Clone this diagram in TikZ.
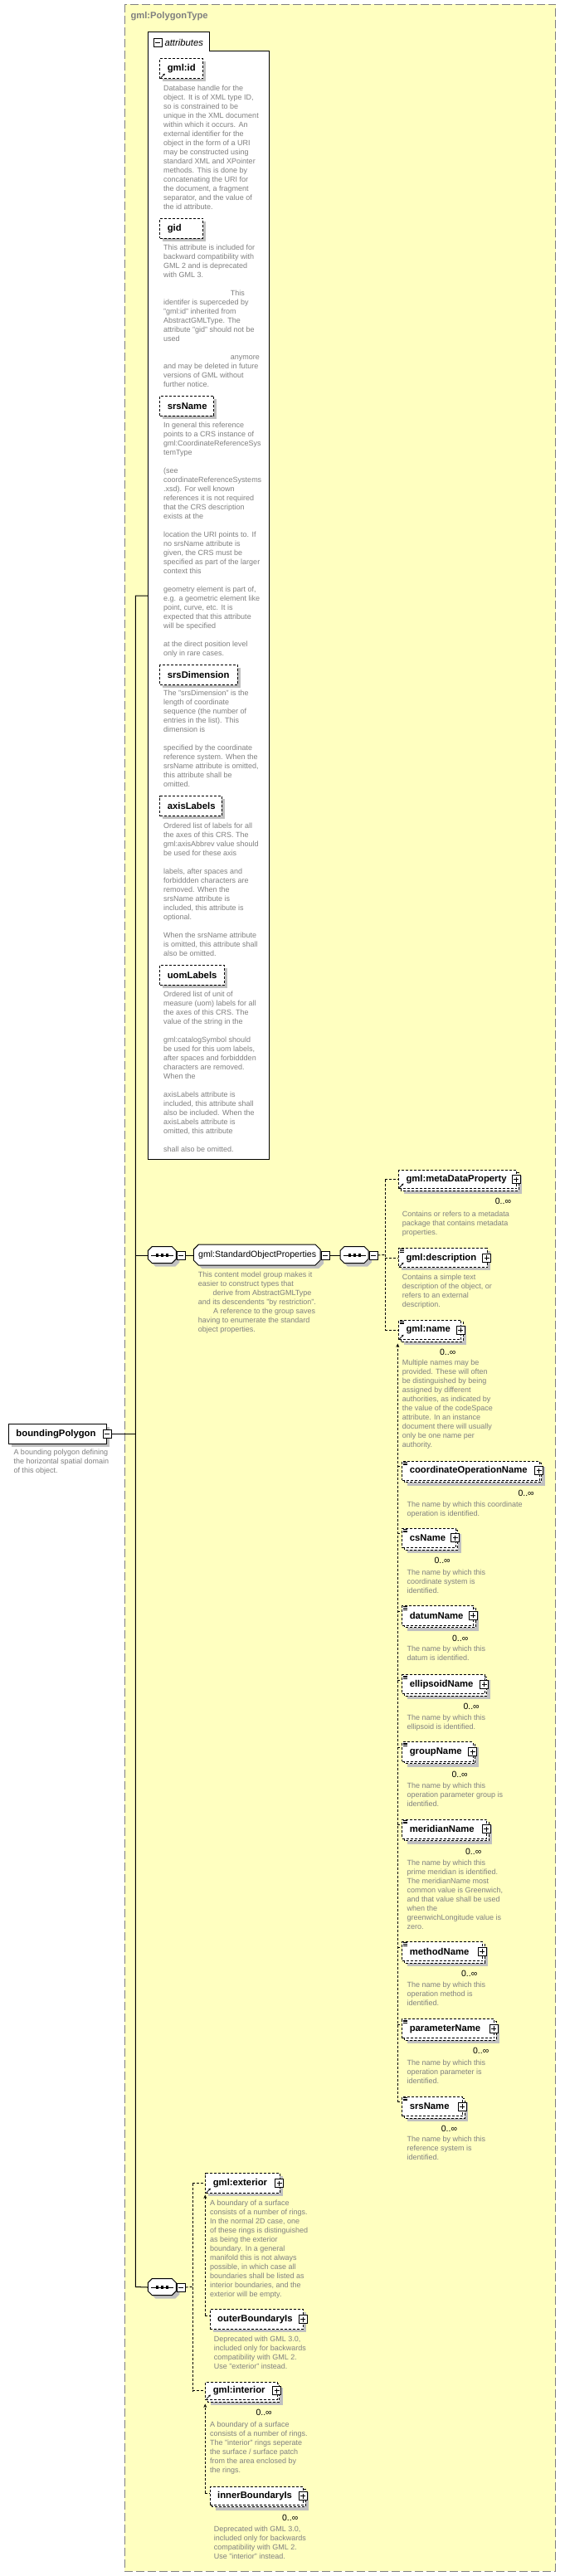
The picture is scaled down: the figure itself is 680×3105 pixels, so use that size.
\documentclass[tikz,border=0pt]{standalone}
\usepackage{fontspec}
\setmainfont{Liberation Sans}
\usetikzlibrary{arrows.meta,calc}
\definecolor{typebg}{RGB}{255,255,192}
\definecolor{typeline}{RGB}{128,128,128}
\definecolor{descgray}{RGB}{128,128,128}
\definecolor{shadowc}{RGB}{192,192,192}
\newcommand\descfont{\fontsize{9}{11}\selectfont}
\newcommand\lblfont{\fontsize{11.3}{13}\selectfont\bfseries}
\newcommand\grpfont{\fontsize{10.6}{13}\selectfont}
\newcommand\multfont{\fontsize{10.5}{12}\selectfont}
\newcommand\bl{\mbox{}}
\tikzset{
  conn/.style={line width=1pt},
  dconn/.style={line width=1pt, dash pattern=on 3pt off 2pt},
  ebox/.style={draw, fill=white, line width=1pt, inner xsep=9pt, inner ysep=0pt, font=\lblfont, anchor=north west},
  optb/.style={dash pattern=on 3pt off 2pt},
  reqb/.style={},
  desc/.style={font=\descfont, text=descgray, align=left, inner sep=0pt, anchor=north west, execute at begin node=\strut},
  mult/.style={font=\multfont, inner sep=0pt, anchor=east},
  pmbase/.style={draw, fill=white, line width=0.8pt, minimum size=10pt, inner sep=0pt},
  minusbox/.style={pmbase, path picture={\draw[line width=0.8pt] ([xshift=2pt]path picture bounding box.west) -- ([xshift=-2pt]path picture bounding box.east);}},
  plusbox/.style={pmbase, path picture={\draw[line width=0.8pt] ([xshift=2pt]path picture bounding box.west) -- ([xshift=-2pt]path picture bounding box.east) ([yshift=-2pt]path picture bounding box.north) -- ([yshift=2pt]path picture bounding box.south);}},
  arr/.style={-{Stealth[length=4.5pt,width=4pt]}},
}
% single element box: name, x1, y1, x2, y2, style, label
\newcommand\elsingle[7]{%
  \pgfmathsetmacro\ew{#4-(#2)}\pgfmathsetmacro\eh{#5-(#3)}\pgfmathsetmacro\etw{#4-(#2)-18}%
  \fill[shadowc] (#2+4,#3+4) rectangle (#4+4,#5+4);
  \node[ebox,#6,minimum width=\ew pt,minimum height=\eh pt] (#1) at (#2,#3) {\makebox[\etw pt][l]{#7}};%
}
% multiple-occurrence element box
\newcommand\elmulti[7]{%
  \pgfmathsetmacro\ew{#4-(#2)-3}\pgfmathsetmacro\eh{#5-(#3)-3}\pgfmathsetmacro\etw{#4-(#2)-21}%
  \fill[shadowc] (#2+7,#3+7) rectangle (#4+4,#5+4);
  \draw[fill=white,#6] (#2+3,#3+3) rectangle (#4,#5);
  \node[ebox,#6,minimum width=\ew pt,minimum height=\eh pt] (#1) at (#2,#3) {\makebox[\etw pt][l]{#7}};%
}
\newcommand\octo[6]{%
  \draw[#1] (#2+#6,#3) -- (#2+#4-#6,#3) -- (#2+#4,#3+#6) -- (#2+#4,#3+#5-#6) -- (#2+#4-#6,#3+#5) -- (#2+#6,#3+#5) -- (#2,#3+#5-#6) -- (#2,#3+#6) -- cycle;}
\newcommand\seqnode[3]{%
  \octo{draw=none,fill=shadowc}{#2+4}{#3+4}{34}{20}{5}
  \octo{fill=white,line width=1pt}{#2}{#3}{34}{20}{5}
  \node[inner sep=0pt, minimum width=34pt, minimum height=20pt, anchor=north west] (#1) at (#2,#3) {};
  \draw[line width=1pt] ([xshift=4pt]#1.west) -- ([xshift=-4pt]#1.east);
  \foreach \dx in {-6,0,6} \fill ($(#1.center)+(\dx-1.6,-1.6)$) rectangle ++(3.2,3.2);
  \node[minusbox] (#1-m) at ([xshift=5pt]#1.east) {};
}
\newcommand\desc[4]{\node[desc] (#1) at (#2,#3-4.7) {#4};}
\newcommand\plus[1]{\node[plusbox] (#1-p) at ([xshift=-1pt]#1.east) {};}
\newcommand\occ[1]{\node[mult] (#1-n) at ($(#1.south east)+(-6.5,14.8)$) {0..∞};}
\newcommand\refarrow[1]{\draw[line width=0.8pt, -{Stealth[length=2.6pt,width=2.8pt]}] ($(#1.south west)+(1.5,-1.5)$) -- ++(5,-5);}
\newcommand\docicon[1]{\foreach \d in {1.6,3.2,4.8} \draw[line width=0.6pt] ($(#1.north west)+(2,\d)$) -- ++(5,0);}

\begin{document}
\begin{tikzpicture}[x=1pt,y=-1pt,line width=1pt]
\useasboundingbox (0,0) rectangle (680,3105);
\fill[white] (0,0) rectangle (680,3105);
% type box
\draw[typeline, fill=typebg, dash pattern=on 10pt off 4pt] (150.4,5.3) rectangle (669.5,3099.3);
\node[font=\fontsize{11.2}{13}\selectfont\bfseries, text=typeline, anchor=base west, inner sep=0pt] (ttl) at (157,22.7) {gml:PolygonType};

% attributes box
\draw[fill=white] (178.3,1397) -- (178.3,38.3) -- (252,38.3) -- (252,61.3) -- (324.3,61.3) -- (324.3,1397) -- cycle;
\node[inner sep=0pt, minimum width=146pt, minimum height=1335.7pt, anchor=north west] (attrs) at (178.3,61.3) {};
\node[minusbox] (att-m) at (190,51) {};
\node[font=\fontsize{11.3}{13}\selectfont\itshape, anchor=base west, inner sep=0pt] (att-l) at (198,55.5) {attributes};

\elsingle{aid}{192.3}{70}{244.3}{94.3}{optb}{gml:id}
\refarrow{aid}
\desc{aid-d}{196.7}{106.7}{Database handle for the\\
object.  It is of XML type ID,\\
so is constrained to be\\
unique in the XML document\\
within which it occurs.  An\\
external identifier for the\\
object in the form of a URI\\
may be constructed using\\
standard XML and XPointer\\
methods.  This is done by\\
concatenating the URI for\\
the document, a fragment\\
separator, and the value of\\
the id attribute.}

\elsingle{agid}{192.3}{262.7}{244.3}{286.7}{optb}{gid}
\desc{agid-d}{196.7}{299}{This attribute is included for\\
backward compatibility with\\
GML 2 and is deprecated\\
with GML 3.\\ \bl\\
\hspace*{80.6pt}This\\
identifer is superceded by\\
"gml:id" inherited from\\
AbstractGMLType. The\\
attribute "gid" should not be\\
used\\ \bl\\
\hspace*{80.6pt}anymore\\
and may be deleted in future\\
versions of GML without\\
further notice.}

\elsingle{asrs}{192.3}{476.7}{257.3}{500.7}{optb}{srsName}
\desc{asrs-d}{196.7}{513.3}{In general this reference\\
points to a CRS instance of\\
gml:CoordinateReferenceSys\\
temType\\ \bl\\
(see\\
coordinateReferenceSystems\\
.xsd). For well known\\
references it is not required\\
that the CRS description\\
exists at the\\ \bl\\
location the URI points to. If\\
no srsName attribute is\\
given, the CRS must be\\
specified as part of the larger\\
context this\\ \bl\\
geometry element is part of,\\
e.g. a geometric element like\\
point, curve, etc. It is\\
expected that this attribute\\
will be specified\\ \bl\\
at the direct position level\\
only in rare cases.}

\elsingle{adim}{192.3}{801}{285.7}{825}{optb}{srsDimension}
\desc{adim-d}{196.7}{836.3}{The "srsDimension" is the\\
length of coordinate\\
sequence (the number of\\
entries in the list). This\\
dimension is\\ \bl\\
specified by the coordinate\\
reference system. When the\\
srsName attribute is omitted,\\
this attribute shall be\\
omitted.}

\elsingle{aaxis}{192.3}{959.3}{266.7}{983.3}{optb}{axisLabels}
\desc{aaxis-d}{196.7}{995.7}{Ordered list of labels for all\\
the axes of this CRS. The\\
gml:axisAbbrev value should\\
be used for these axis\\ \bl\\
labels, after spaces and\\
forbiddden characters are\\
removed. When the\\
srsName attribute is\\
included, this attribute is\\
optional.\\ \bl\\
When the srsName attribute\\
is omitted, this attribute shall\\
also be omitted.}

\elsingle{auom}{192.3}{1162.7}{270}{1186.7}{optb}{uomLabels}
\desc{auom-d}{196.7}{1199}{Ordered list of unit of\\
measure (uom) labels for all\\
the axes of this CRS. The\\
value of the string in the\\ \bl\\
gml:catalogSymbol should\\
be used for this uom labels,\\
after spaces and forbiddden\\
characters are removed.\\
When the\\ \bl\\
axisLabels attribute is\\
included, this attribute shall\\
also be included. When the\\
axisLabels attribute is\\
omitted, this attribute\\ \bl\\
shall also be omitted.}

% bounding polygon element
\elsingle{bp}{10}{1716}{128}{1740}{reqb}{boundingPolygon}
\node[minusbox] (bp-m) at (bp.east) {};
\desc{bp-d}{16}{1751}{A bounding polygon defining\\
the horizontal spatial domain\\
of this object.}

% sequences and group
\seqnode{seq1}{178.3}{1502.5}
\octo{draw=none,fill=shadowc}{237.3}{1504}{152.7}{25}{6}
\octo{fill=white}{233.3}{1500}{152.7}{25}{6}
\node[inner sep=0pt, minimum width=152.7pt, minimum height=25pt, anchor=north west, font=\grpfont] (grp) at (233.3,1500) {gml:StandardObjectProperties};
\node[minusbox] (grp-m) at ([xshift=5pt]grp.east) {};
\desc{grp-d}{238.3}{1536.7}{This content model group makes it\\
easier to construct types that\\
\hspace*{17.7pt}derive from AbstractGMLType\\
and its descendents "by restriction".\\
\hspace*{18.3pt}A reference to the group saves\\
having to enumerate the standard\\
object properties.}
\seqnode{seq2}{410}{1502.5}
\seqnode{seq3}{178.3}{2746.5}

% right column
\elmulti{meta}{480}{1410}{625}{1435}{optb}{gml:metaDataProperty}
\plus{meta}\occ{meta}\refarrow{meta}
\desc{meta-d}{484.3}{1464.3}{Contains or refers to a metadata\\
package that contains metadata\\
properties.}

\elsingle{descr}{480}{1504}{586.7}{1527.3}{optb}{gml:description}
\plus{descr}\refarrow{descr}\docicon{descr}
\desc{descr-d}{484.3}{1540}{Contains a simple text\\
description of the object, or\\
refers to an external\\
description.}

\elmulti{gname}{480}{1590.7}{558.3}{1617.3}{optb}{gml:name}
\plus{gname}\occ{gname}\refarrow{gname}\docicon{gname}
\desc{gname-d}{484.3}{1643.3}{Multiple names may be\\
provided.  These will often\\
be distinguished by being\\
assigned by different\\
authorities, as indicated by\\
the value of the codeSpace\\
attribute.  In an instance\\
document there will usually\\
only be one name per\\
authority.}

\elmulti{con}{484.3}{1760.7}{652.7}{1786.7}{optb}{coordinateOperationName}
\plus{con}\occ{con}\docicon{con}
\desc{con-d}{490}{1814.3}{The name by which this coordinate\\
operation is identified.}

\elmulti{csn}{484.3}{1841.7}{551.7}{1868}{optb}{csName}
\plus{csn}\occ{csn}\docicon{csn}
\desc{csn-d}{490}{1895.7}{The name by which this\\
coordinate system is\\
identified.}

\elmulti{dtn}{484.3}{1935}{573.3}{1961.7}{optb}{datumName}
\plus{dtn}\occ{dtn}\docicon{dtn}
\desc{dtn-d}{490}{1988.3}{The name by which this\\
datum is identified.}

\elmulti{eln}{484.3}{2018.3}{586.7}{2044.3}{optb}{ellipsoidName}
\plus{eln}\occ{eln}\docicon{eln}
\desc{eln-d}{490}{2070.7}{The name by which this\\
ellipsoid is identified.}

\elmulti{grn}{484.3}{2099.3}{572.7}{2125.7}{optb}{groupName}
\plus{grn}\occ{grn}\docicon{grn}
\desc{grn-d}{490}{2152.7}{The name by which this\\
operation parameter group is\\
identified.}

\elmulti{mrn}{484.3}{2192.7}{589.3}{2218.7}{optb}{meridianName}
\plus{mrn}\occ{mrn}\docicon{mrn}
\desc{mrn-d}{490}{2245.7}{The name by which this\\
prime meridian is identified.\\
The meridianName most\\
common value is Greenwich,\\
and that value shall be used\\
when the\\
greenwichLongitude value is\\
zero.}

\elmulti{mtn}{484.3}{2340}{584.3}{2366}{optb}{methodName}
\plus{mtn}\occ{mtn}\docicon{mtn}
\desc{mtn-d}{490}{2393.3}{The name by which this\\
operation method is\\
identified.}

\elmulti{prn}{484.3}{2433.3}{598.3}{2459.3}{optb}{parameterName}
\plus{prn}\occ{prn}\docicon{prn}
\desc{prn-d}{490}{2486.7}{The name by which this\\
operation parameter is\\
identified.}

\elmulti{srn}{484.3}{2526.7}{560}{2553.3}{optb}{srsName}
\plus{srn}\occ{srn}\docicon{srn}
\desc{srn-d}{490}{2579.3}{The name by which this\\
reference system is\\
identified.}

% bottom choice
\elsingle{ext}{247.3}{2619.3}{336.7}{2643.3}{optb}{gml:exterior}
\plus{ext}\refarrow{ext}
\desc{ext-d}{252.7}{2655.7}{A boundary of a surface\\
consists of a number of rings.\\
In the normal 2D case, one\\
of these rings is distinguished\\
as being the exterior\\
boundary. In a general\\
manifold this is not always\\
possible, in which case all\\
boundaries shall be listed as\\
interior boundaries, and the\\
exterior will be empty.}

\elsingle{obi}{252.7}{2783}{365}{2807}{optb}{outerBoundaryIs}
\plus{obi}
\desc{obi-d}{257.3}{2820}{Deprecated with GML 3.0,\\
included only for backwards\\
compatibility with GML 2.\\
Use "exterior" instead.}

\elmulti{int}{247.3}{2870.7}{336.7}{2895}{optb}{gml:interior}
\plus{int}\occ{int}\refarrow{int}
\desc{int-d}{252.7}{2923.3}{A boundary of a surface\\
consists of a number of rings.\\
The "interior" rings seperate\\
the surface / surface patch\\
from the area enclosed by\\
the rings.}

\elmulti{ibi}{252.7}{2997.3}{368.3}{3021.7}{optb}{innerBoundaryIs}
\plus{ibi}\occ{ibi}
\desc{ibi-d}{257.3}{3049.3}{Deprecated with GML 3.0,\\
included only for backwards\\
compatibility with GML 2.\\
Use "interior" instead.}

% connectors
\coordinate (t1) at (163.3,718);
\coordinate (t2) at (163.3,2756.5);
\draw[conn] (attrs.west |- t1) -- (t1) -- (t2) -- (seq3.west);
\draw[conn] (bp-m.east) -- (bp-m.east -| t1);
\draw[conn] (t1 |- seq1.west) -- (seq1.west);
\draw[conn] (seq1-m.east) -- (grp.west);
\draw[conn] (grp-m.east) -- (seq2.west);

\coordinate (v1) at (464.3,1512.5);
\draw[dconn] (seq2-m.east) -- (v1);
\draw[dconn] (v1 |- meta.west) -- (v1 |- gname.west);
\draw[dconn] (v1 |- meta.west) -- (meta.west);
\draw[dconn] (v1 |- descr.west) -- (descr.west);
\draw[dconn] (v1 |- gname.west) -- (gname.west);

\coordinate (s1top) at (479.3,1619.5);
\foreach \c in {con,csn,dtn,eln,grn,mrn,mtn,prn,srn}{
  \coordinate (\c-j) at ($(\c.north west)+(0,7)$);
  \draw[dconn] (\c-j -| s1top) -- (\c-j);
}
\draw[dconn, arr] (srn-j -| s1top) -- (s1top);

\coordinate (v2) at (232.3,2756.5);
\draw[dconn] (seq3-m.east) -- (v2);
\draw[dconn] (v2 |- ext.west) -- (v2 |- int.west);
\draw[dconn] (v2 |- ext.west) -- (ext.west);
\draw[dconn] (v2 |- int.west) -- (int.west);

\coordinate (s2top) at (247.3,2645.5);
\coordinate (obi-j) at ($(obi.north west)+(0,8)$);
\draw[dconn] (obi-j -| s2top) -- (obi-j);
\draw[dconn, arr] (obi-j -| s2top) -- (s2top);

\coordinate (s3top) at (247.3,2897.5);
\coordinate (ibi-j) at ($(ibi.north west)+(0,8)$);
\draw[dconn] (ibi-j -| s3top) -- (ibi-j);
\draw[dconn, arr] (ibi-j -| s3top) -- (s3top);
\end{tikzpicture}
\end{document}
